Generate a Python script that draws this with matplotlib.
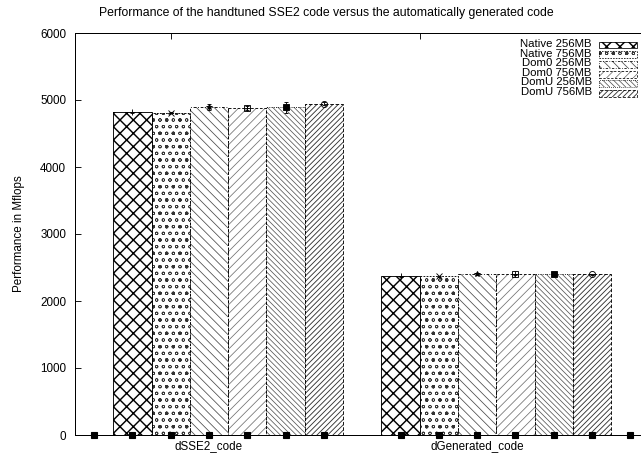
import matplotlib
matplotlib.use('Agg')
import matplotlib.pyplot as plt
from matplotlib.patches import Rectangle
import numpy as np

plt.rcParams['font.family'] = ['Liberation Sans', 'DejaVu Sans']

groups = ['dSSE2_code', 'dGenerated_code']
series = ['Native 256MB', 'Native 756MB', 'Dom0 256MB', 'Dom0 756MB', 'DomU 256MB', 'DomU 756MB']

native_256 = [4815, 2370]
native_756 = [4810, 2370]
dom0_256 = [4895, 2400]
dom0_756 = [4880, 2400]
domu_256 = [4890, 2400]
domu_756 = [4945, 2400]

native_256_err = [5, 5]
native_756_err = [10, 10]
dom0_256_err = [45, 15]
dom0_756_err = [30, 10]
domu_256_err = [85, 10]
domu_756_err = [25, 5]

# the extra zero-valued points gnuplot drew along the axis
zero_x = [0.5, 1.5, 2.5, 3.5, 4.5, 5.5, 6.5, 8.5, 9.5, 10.5, 11.5, 12.5, 13.5, 14.5]
zero_y = [0] * len(zero_x)

yticks = [0, 1000, 2000, 3000, 4000, 5000, 6000]

values = [native_256, native_756, dom0_256, dom0_756, domu_256, domu_756]
errors = [native_256_err, native_756_err, dom0_256_err, dom0_756_err, domu_256_err, domu_756_err]

hatches = ['xx', 'oo.', '\\\\\\', '///', '\\\\\\\\\\', '/////']
hatch_cols = ['k', '0.2', '0.3', '0.45', '0.35', '0.2']
hatch_lws = [1.3, 0.6, 0.7, 0.7, 0.7, 0.8]
edge_ls = ['-', (0, (2, 1.5)), (0, (3, 2, 1, 2)), (0, (3, 2)), (0, (1, 1.5)), (0, (4, 2))]

group_start = np.array([1.0, 8.0])
fs = 10.5

fig = plt.figure(figsize=(641 / 80, 457 / 80), dpi=80)
ax = fig.add_axes([75 / 641, 22 / 457, 566 / 641, 402 / 457])


def hatched(patch, i):
    if hasattr(patch, 'set_hatch_linewidth'):
        patch.set_hatch_linewidth(hatch_lws[i])


for i, s in enumerate(series):
    x = group_start + i + 0.5
    bars = ax.bar(x, values[i], width=1, color='white', edgecolor=hatch_cols[i],
                  hatch=hatches[i], linewidth=0, zorder=1)
    for b in bars:
        hatched(b, i)
    ax.bar(x, values[i], width=1, fill=False, edgecolor='k', linewidth=0.8,
           linestyle=edge_ls[i], zorder=2)

markers = ['+', 'x', '*', 's', 's', 'o']
mfcs = ['k', 'k', 'k', 'none', 'k', 'none']
for i, s in enumerate(series):
    x = group_start + i + 0.5
    ax.errorbar(x, values[i], yerr=errors[i], fmt='none', ecolor='k',
                elinewidth=0.8, capsize=2, capthick=0.8, zorder=4)
    ax.plot(x, values[i], ls='none', marker=markers[i], mfc=mfcs[i], mec='k',
            ms=5.5, mew=0.8, zorder=5)
    if i == 3:
        ax.plot(x, values[i], ls='none', marker='+', color='k', ms=5.5, mew=0.8, zorder=5)

ax.plot(zero_x, zero_y, ls='none', marker='s', color='k', ms=5, clip_on=False, zorder=6)

ax.set_xlim(0, 14.78)
ax.set_ylim(0, 6000)
ax.set_yticks(yticks)
ax.set_xticks(group_start + 2.5)
ax.set_xticklabels(groups)
ax.tick_params(axis='y', direction='in', length=5, width=0.8, labelsize=fs, pad=8, right=False)
ax.tick_params(axis='x', direction='in', length=0, labelsize=fs, pad=5)
ax.spines['right'].set_visible(False)
for sp in ['left', 'top', 'bottom']:
    ax.spines[sp].set_linewidth(0.9)

top = ax.secondary_xaxis('top')
top.set_xticks([2.5, 9.0])
top.set_xticklabels(['', ''])
top.tick_params(direction='in', length=5, width=0.8)
top.spines['top'].set_visible(False)

ax.set_ylabel('Performance in Mflops', fontsize=fs, labelpad=14)
fig.text(326 / 641, 1 - 13 / 457, 'Performance of the handtuned SSE2 code versus the automatically generated code',
         ha='center', va='center', fontsize=fs + 0.5)

# key, top right: one right-aligned text block, swatches to its right
row_px = 9.7
row = row_px / 402
y0 = 1 - 12 / 402
ax.text(0.913, y0 + row / 2 + 0.003, '\n'.join(series), transform=ax.transAxes, ha='right', va='top',
        multialignment='right', fontsize=10.2, linespacing=0.95)
for i, s in enumerate(series):
    yc = y0 - i * row
    r = Rectangle((0.926, yc - 0.0085), 0.067, 0.017, transform=ax.transAxes,
                  facecolor='white', edgecolor=hatch_cols[i], hatch=hatches[i], linewidth=0)
    hatched(r, i)
    ax.add_patch(r)
    ax.add_patch(Rectangle((0.926, yc - 0.0085), 0.067, 0.017, transform=ax.transAxes,
                           fill=False, edgecolor='k', linewidth=0.7, linestyle=edge_ls[i]))

fig.savefig('out.png', dpi=80)
